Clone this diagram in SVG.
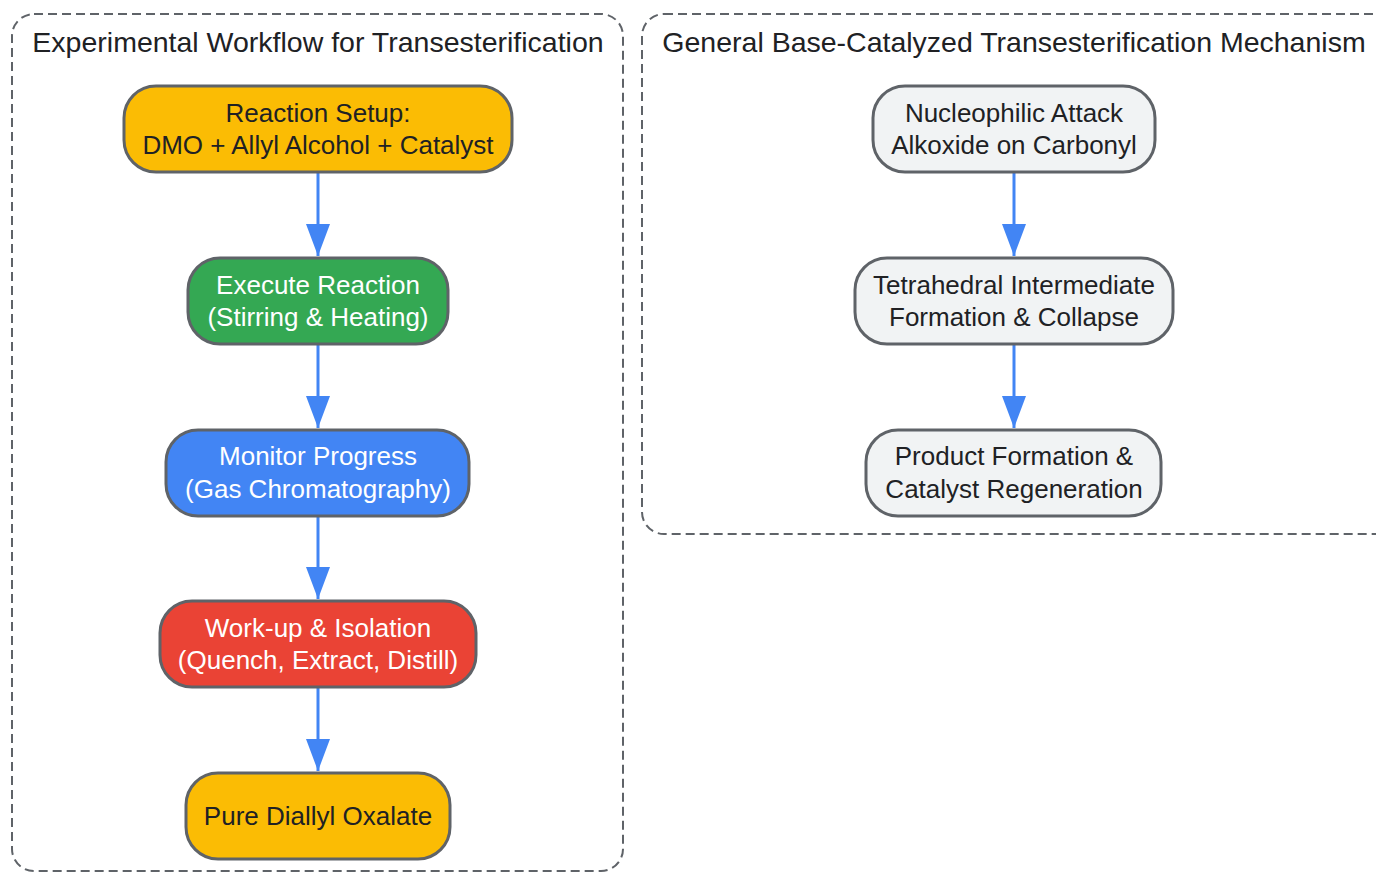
<svg xmlns="http://www.w3.org/2000/svg" width="1376" height="873" viewBox="0 0 1376 873">
<style>
.cl{fill:none;stroke:#5f6368;stroke-width:2;stroke-dasharray:9 5}
.ct{font-family:"Liberation Sans",Arial,sans-serif;font-size:28.5px;fill:#202124;text-anchor:middle}
.n{stroke:#5f6368;stroke-width:3}
.t{font-family:"Liberation Sans",Arial,sans-serif;font-size:26px;text-anchor:middle}
.dk{fill:#202124}
.wh{fill:#ffffff}
.e{stroke:#4285F4;stroke-width:3;fill:none}
</style>
<defs>
<marker id="a2" viewBox="0 0 32 24" refX="32" refY="12" markerWidth="32" markerHeight="24" markerUnits="userSpaceOnUse" orient="auto">
<path d="M0,0 L32,12 L0,24 z" fill="#4285F4"/>
</marker>
</defs>
<rect width="1376" height="873" fill="#ffffff"/>
<g id="cluster-left">
<rect class="cl" x="12" y="14" width="611" height="857" rx="22"/>
<text class="ct" x="318" y="52">Experimental Workflow for Transesterification</text>
</g>
<g id="cluster-right">
<rect class="cl" x="642" y="14" width="760" height="520" rx="22"/>
<text class="ct" x="1014" y="52">General Base-Catalyzed Transesterification Mechanism</text>
</g>
<g id="connectors">
<line class="e" x1="318" y1="172" x2="318" y2="256" marker-end="url(#a2)"/>
<line class="e" x1="318" y1="344" x2="318" y2="428" marker-end="url(#a2)"/>
<line class="e" x1="318" y1="516" x2="318" y2="599" marker-end="url(#a2)"/>
<line class="e" x1="318" y1="687" x2="318" y2="771" marker-end="url(#a2)"/>
<line class="e" x1="1014" y1="172" x2="1014" y2="256" marker-end="url(#a2)"/>
<line class="e" x1="1014" y1="344" x2="1014" y2="428" marker-end="url(#a2)"/>
</g>
<g id="setup">
<rect class="n" x="124" y="86" width="388" height="86" rx="32" fill="#FBBC04"/>
<text class="t dk" x="318" y="122">Reaction Setup:</text>
<text class="t dk" x="318" y="154">DMO + Allyl Alcohol + Catalyst</text>
</g>
<g id="execute">
<rect class="n" x="188" y="258" width="260" height="86" rx="32" fill="#34A853"/>
<text class="t wh" x="318" y="294">Execute Reaction</text>
<text class="t wh" x="318" y="326">(Stirring &amp; Heating)</text>
</g>
<g id="monitor">
<rect class="n" x="166" y="430" width="303" height="86" rx="32" fill="#4285F4"/>
<text class="t wh" x="318" y="465">Monitor Progress</text>
<text class="t wh" x="318" y="498">(Gas Chromatography)</text>
</g>
<g id="workup">
<rect class="n" x="160" y="601" width="316" height="86" rx="32" fill="#EA4335"/>
<text class="t wh" x="318" y="637">Work-up &amp; Isolation</text>
<text class="t wh" x="318" y="669">(Quench, Extract, Distill)</text>
</g>
<g id="product">
<rect class="n" x="186" y="773" width="264" height="86" rx="32" fill="#FBBC04"/>
<text class="t dk" x="318" y="825">Pure Diallyl Oxalate</text>
</g>
<g id="attack">
<rect class="n" x="873" y="86" width="282" height="86" rx="32" fill="#F1F3F4"/>
<text class="t dk" x="1014" y="122">Nucleophilic Attack</text>
<text class="t dk" x="1014" y="154">Alkoxide on Carbonyl</text>
</g>
<g id="intermediate">
<rect class="n" x="855" y="258" width="318" height="86" rx="32" fill="#F1F3F4"/>
<text class="t dk" x="1014" y="294">Tetrahedral Intermediate</text>
<text class="t dk" x="1014" y="326">Formation &amp; Collapse</text>
</g>
<g id="regeneration">
<rect class="n" x="866" y="430" width="295" height="86" rx="32" fill="#F1F3F4"/>
<text class="t dk" x="1014" y="465">Product Formation &amp;</text>
<text class="t dk" x="1014" y="498">Catalyst Regeneration</text>
</g>
</svg>
